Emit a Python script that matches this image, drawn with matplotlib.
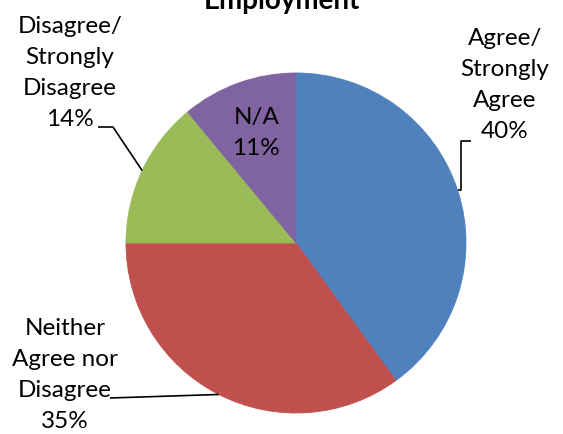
import numpy as np
import matplotlib

matplotlib.use("Agg")
import matplotlib.pyplot as plt

# data
labels = ["Agree/\nStrongly\nAgree", "Neither\nAgree nor\nDisagree", "Disagree/\nStrongly\nDisagree", "N/A"]
shares = [40, 35, 14, 11]
colors = ["#4F81BD", "#C0504D", "#9BBB59", "#8064A2"]
title = "Employment"

W, H = 563, 434
CX, CY, R = 296, 243, 170  # pie center / radius in pixels
FONT = ["Lato", "DejaVu Sans"]
LABEL_SIZE = 17.5


def px_to_data(px, py):
    return (px - CX) / R, (CY - py) / R


fig = plt.figure(figsize=(W / 100, H / 100), dpi=100, facecolor="white")
ax = fig.add_axes([0, 0, 1, 1])
ax.axis("off")

wedges, _ = ax.pie(
    shares,
    colors=colors,
    startangle=90,
    counterclock=False,
    radius=1.0,
    wedgeprops={"linewidth": 0.6, "edgecolor": None},
)
for w, c in zip(wedges, colors):
    w.set_edgecolor(c)
ax.set_aspect("equal")
ax.set_xlim(-CX / R, (W - CX) / R)
ax.set_ylim(-(H - CY) / R, CY / R)

# wedge midpoints on the edge
total = float(sum(shares))
cum = np.cumsum([0] + shares[:-1])
mids = [(c + s / 2) / total * 360 for c, s in zip(cum, shares)]
edge = [(np.sin(np.radians(a)), np.cos(np.radians(a))) for a in mids]

line_kw = dict(color="black", lw=1.2, solid_capstyle="butt")
text_kw = dict(ha="center", va="center", fontsize=LABEL_SIZE, family=FONT, color="#000000", linespacing=1.6)

# Agree / Strongly Agree
tx, ty = px_to_data(505, 85)
ax.text(tx, ty, f"{labels[0]}\n{shares[0]}%", **text_kw)
ex, ey = edge[0]
k1 = px_to_data(461, 141)
k2 = px_to_data(471, 141)
ax.plot([ex, k1[0], k1[0], k2[0]], [ey, ey, k1[1], k2[1]], **line_kw)

# Neither Agree nor Disagree
tx, ty = px_to_data(65, 375)
ax.text(tx, ty, f"{labels[1]}\n{shares[1]}%", **text_kw)
ex, ey = edge[1]
k1 = px_to_data(110, 398)
ax.plot([ex, k1[0]], [ey, k1[1]], **line_kw)

# Disagree / Strongly Disagree
tx, ty = px_to_data(70, 73)
ax.text(tx, ty, f"{labels[2]}\n{shares[2]}%", **text_kw)
ex, ey = edge[2]
k1 = px_to_data(113, 127)
k2 = px_to_data(98, 127)
ax.plot([ex, k1[0], k2[0]], [ey, k1[1], k2[1]], **line_kw)

# N/A inside the slice
a = np.radians(mids[3])
ax.text(0.69 * np.sin(a), 0.69 * np.cos(a), f"{labels[3]}\n{shares[3]}%", **text_kw)

fig.text(282 / W, 1 - 1 / H, title, ha="center", va="center", fontsize=20,
         fontweight="bold", family=FONT)

fig.savefig("out.png", dpi=100, facecolor="white")
